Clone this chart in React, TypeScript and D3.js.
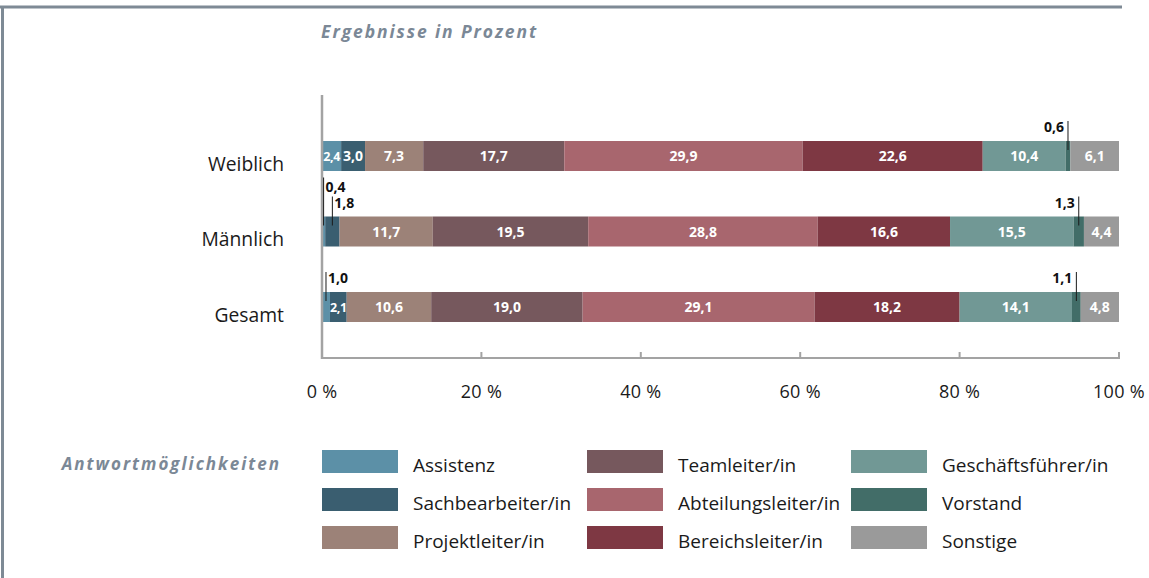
import React from "react";
import * as d3 from "d3";

const categories = ["Weiblich", "Männlich", "Gesamt"];
const seriesNames = [
  "Assistenz",
  "Sachbearbeiter/in",
  "Projektleiter/in",
  "Teamleiter/in",
  "Abteilungsleiter/in",
  "Bereichsleiter/in",
  "Geschäftsführer/in",
  "Vorstand",
  "Sonstige",
];
const seriesColors = [
  "#5c90a7",
  "#3a5e70",
  "#9c8278",
  "#76585d",
  "#a8666e",
  "#7e3843",
  "#719895",
  "#426d68",
  "#9a9a9a",
];
const weiblich = [2.4, 3.0, 7.3, 17.7, 29.9, 22.6, 10.4, 0.6, 6.1];
const maennlich = [0.4, 1.8, 11.7, 19.5, 28.8, 16.6, 15.5, 1.3, 4.4];
const gesamt = [1.0, 2.1, 10.6, 19.0, 29.1, 18.2, 14.1, 1.1, 4.8];
const rows = [weiblich, maennlich, gesamt];
const xTicks = [0, 20, 40, 60, 80, 100];

const W = 1149;
const H = 578;
const FONT = "'Open Sans', 'Noto Sans', sans-serif";
const FRAME = "#7e8a95";
const AXIS = "#a3a3a3";

const fmt = (v: number) => v.toFixed(1).replace(".", ",");

export default function App() {
  const x = d3.scaleLinear().domain([0, 100]).range([322, 1119]);
  const y = d3.scalePoint().domain(categories).range([156, 307]);
  const bh = 30;

  const marks: React.ReactNode[] = [];
  const labels: React.ReactNode[] = [];

  categories.forEach((cat, ri) => {
    const vals = rows[ri];
    const cy = y(cat) as number;
    const top = cy - bh / 2;
    const stack = d3.cumsum(vals);
    const segs = vals.map((v, i) => {
      const x0 = x(i === 0 ? 0 : stack[i - 1]);
      const x1 = x(stack[i]);
      return { v, i, x0, x1, w: x1 - x0, mid: (x0 + x1) / 2 };
    });
    segs.forEach((s) => {
      marks.push(
        <rect key={`r${ri}-${s.i}`} x={s.x0} y={top} width={s.w} height={bh} fill={seriesColors[s.i]} />
      );
    });
    const outside = segs.filter((s) => s.w < 15);
    segs.forEach((s) => {
      if (s.w >= 15) {
        labels.push(
          <text
            key={`t${ri}-${s.i}`}
            x={s.mid}
            y={cy + 5}
            textAnchor="middle"
            fill="#ffffff"
            fontFamily={FONT}
            fontWeight={700}
            fontSize={s.w < 22 ? 12.5 : 14}
            letterSpacing={s.w < 22 ? -0.4 : 0}
          >
            {fmt(s.v)}
          </text>
        );
      } else {
        const leftSide = s.mid < x(50);
        const sameSide = outside.filter((o) => (o.mid < x(50)) === leftSide);
        const level = leftSide
          ? sameSide.filter((o) => o.i > s.i).length
          : sameSide.filter((o) => o.i < s.i).length;
        const lineTop = top - 20 - level * 19;
        const lblY = top - 9 - level * 16;
        labels.push(
          <g key={`o${ri}-${s.i}`}>
            <line x1={s.mid} x2={s.mid} y1={lineTop} y2={top + 9} stroke="#1a1a1a" strokeWidth={1} />
            <text
              x={leftSide ? s.mid + 2 : s.mid - 4}
              y={lblY}
              textAnchor={leftSide ? "start" : "end"}
              fill="#111"
              fontFamily={FONT}
              fontWeight={700}
              fontSize={14}
            >
              {fmt(s.v)}
            </text>
          </g>
        );
      }
    });
    labels.push(
      <text key={`c${ri}`} x={284} y={cy + 14.5} textAnchor="end" fill="#1a1a1a" fontFamily={FONT} fontSize={19.3}>
        {cat}
      </text>
    );
  });

  const axisY = 358;

  const legendCols = [322, 587, 851];
  const legendRows = [450, 488, 526];

  return (
    <svg
      width={W}
      height={H}
      viewBox={`0 0 ${W} ${H}`}
      style={{ position: "absolute", left: 0, top: 0, background: "#fff" }}
    >
      <rect x={0} y={0} width={W} height={H} fill="#fff" />
      <line x1={0} x2={1122} y1={7} y2={7} stroke={FRAME} strokeWidth={3} />
      <line x1={2.5} x2={2.5} y1={6} y2={H} stroke={FRAME} strokeWidth={3} />

      <text
        x={321}
        y={38}
        fill="#7b8896"
        fontFamily={FONT}
        fontStyle="italic"
        fontWeight={700}
        fontSize={17.5}
        letterSpacing={1.9}
      >
        Ergebnisse in Prozent
      </text>

      {marks}

      <line x1={x(0)} x2={x(0)} y1={95} y2={axisY + 1} stroke={AXIS} strokeWidth={2.5} />
      <line x1={x(0)} x2={x(100) + 1} y1={axisY} y2={axisY} stroke={AXIS} strokeWidth={2} />
      {xTicks.slice(1).map((t) => (
        <line key={`tk${t}`} x1={x(t)} x2={x(t)} y1={axisY - 6} y2={axisY} stroke={AXIS} strokeWidth={2} />
      ))}
      {xTicks.map((t) => (
        <text
          key={`tl${t}`}
          x={x(t)}
          y={398}
          textAnchor="middle"
          fill="#1a1a1a"
          fontFamily={FONT}
          fontSize={18}
          letterSpacing={0.3}
        >
          {`${t} %`}
        </text>
      ))}

      {labels}

      <text
        x={281}
        y={470}
        textAnchor="end"
        fill="#7b8896"
        fontFamily={FONT}
        fontStyle="italic"
        fontWeight={700}
        fontSize={17}
        letterSpacing={2}
      >
        Antwortmöglichkeiten
      </text>
      {seriesNames.map((name, i) => {
        const col = Math.floor(i / 3);
        const row = i % 3;
        const lx = legendCols[col];
        const ly = legendRows[row];
        return (
          <g key={`lg${i}`}>
            <rect x={lx} y={ly} width={76} height={23} fill={seriesColors[i]} />
            <text x={lx + 91} y={ly + 22} fill="#1a1a1a" fontFamily={FONT} fontSize={19}>
              {name}
            </text>
          </g>
        );
      })}
    </svg>
  );
}
